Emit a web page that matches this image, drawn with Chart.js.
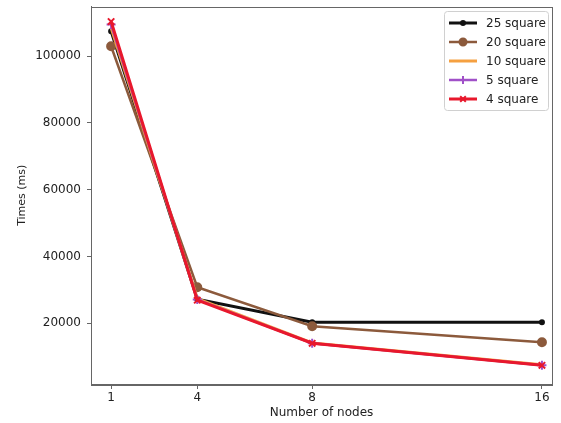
<!DOCTYPE html>
<html>
<head>
<meta charset="utf-8">
<script src="https://cdn.jsdelivr.net/npm/chart.js@4/dist/chart.umd.min.js"></script>
<style>
html,body{margin:0;padding:0;background:#fff;}
#wrap{width:561px;height:423px;}
</style>
</head>
<body>
<div id="wrap"><canvas id="c" width="561" height="423"></canvas></div>
<script>
// ---- data ----
const nodes = [1, 4, 8, 16];
const seriesNames = ["25 square", "20 square", "10 square", "5 square", "4 square"];
const sq25 = [107500, 27200, 20300, 20300];
const sq20 = [103000, 30800, 19100, 14300];
const sq10 = [108500, 27400, 14100, 7550];
const sq5  = [109500, 27100, 14000, 7450];
const sq4  = [110400, 26900, 14000, 7400];
const yTicks = [20000, 40000, 60000, 80000, 100000];
const xTicks = [1, 4, 8, 16];

const FONT = "'DejaVu Sans', sans-serif";
const TXT = '#222';
const AXC = '#666';

function pts(arr){ return nodes.map((n,i)=>({x:n, y:arr[i]})); }

const styles = [
  {color:'#111111', ps:'circle', r:2,   lr:2,   w:3},
  {color:'#8c5a3c', ps:'circle', r:4,   lr:3.5, w:2.5},
  {color:'#f5a040', ps:false,   r:0,   lr:0,   w:3},
  {color:'#a050c8', ps:'cross', r:4.5, lr:4,   w:2.5},
  {color:'#e8182c', ps:'crossRot', r:4.5, lr:4, w:3}
];
const vals = [sq25, sq20, sq10, sq5, sq4];

const datasets = vals.map((v,i)=>({
  label: seriesNames[i],
  data: pts(v),
  order: vals.length - 1 - i,
  borderColor: styles[i].color,
  backgroundColor: styles[i].color,
  borderWidth: styles[i].w,
  pointStyle: styles[i].ps,
  pointRadius: styles[i].r,
  pointBorderWidth: 2,
  pointBorderColor: styles[i].color,
  pointBackgroundColor: styles[i].color,
  tension: 0,
  fill: false
}));

const framePlugin = {
  id:'frame',
  afterDraw(chart){
    const {ctx, chartArea:a} = chart;
    ctx.save();
    ctx.strokeStyle = AXC; ctx.lineWidth = 1;
    ctx.strokeRect(Math.round(a.left)+0.5, Math.round(a.top)+0.5, Math.round(a.right-a.left), Math.round(a.bottom-a.top));
    // legend
    const bx=444.5, by=11.5, bw=104, bh=99;
    ctx.fillStyle='rgba(255,255,255,0.85)';
    ctx.strokeStyle='#d0d0d0';
    ctx.lineWidth=1;
    ctx.beginPath();
    if (ctx.roundRect) ctx.roundRect(bx,by,bw,bh,3); else ctx.rect(bx,by,bw,bh);
    ctx.fill(); ctx.stroke();
    ctx.font = '12px ' + FONT;
    ctx.textBaseline='middle';
    ctx.textAlign='left';
    for (let i=0;i<seriesNames.length;i++){
      const y = 23 + i*19;
      const s = styles[i];
      ctx.strokeStyle=s.color; ctx.lineWidth=s.w;
      ctx.beginPath(); ctx.moveTo(449,y); ctx.lineTo(477,y); ctx.stroke();
      if (s.ps){
        ctx.fillStyle=s.color; ctx.strokeStyle=s.color; ctx.lineWidth=2;
        Chart.helpers.drawPoint(ctx,{pointStyle:s.ps, radius:s.lr, borderWidth:2}, 463, y);
      }
      ctx.fillStyle=TXT;
      ctx.fillText(seriesNames[i], 486, y+0.5);
    }
    ctx.restore();
  }
};

new Chart(document.getElementById('c'), {
  type:'line',
  data:{datasets},
  plugins:[framePlugin],
  options:{
    responsive:false,
    animation:false,
    devicePixelRatio:1,
    layout:{padding:{left:0, top:5, right:9, bottom:0}},
    plugins:{legend:{display:false}, tooltip:{enabled:false}},
    scales:{
      x:{
        type:'linear', min:0.30, max:16.35,
        afterBuildTicks(s){ s.ticks = xTicks.map(v=>({value:v})); },
        afterFit(s){ s.height = 39; s.paddingLeft=0; s.paddingRight=0; },
        grid:{drawOnChartArea:false, drawTicks:true, tickLength:5, color:AXC, tickColor:AXC},
        border:{color:AXC, width:1},
        ticks:{color:TXT, font:{family:FONT, size:12}, padding:2, autoSkip:false, maxRotation:0},
        title:{display:true, text:'Number of nodes', color:TXT, font:{family:FONT, size:12}, padding:{top:0,bottom:3}}
      },
      y:{
        type:'linear', min:1800, max:114900,
        afterBuildTicks(s){ s.ticks = yTicks.map(v=>({value:v})); },
        afterFit(s){ s.width = 91; s.paddingTop=0; s.paddingBottom=0; },
        grid:{drawOnChartArea:false, drawTicks:true, tickLength:4, color:AXC, tickColor:AXC},
        border:{color:AXC, width:1},
        ticks:{color:TXT, font:{family:FONT, size:12}, padding:6, callback:v=>String(v)},
        title:{display:true, text:'Times (ms)', color:TXT, font:{family:FONT, size:11}, padding:{top:16,bottom:0}}
      }
    }
  }
});
</script>
</body>
</html>
